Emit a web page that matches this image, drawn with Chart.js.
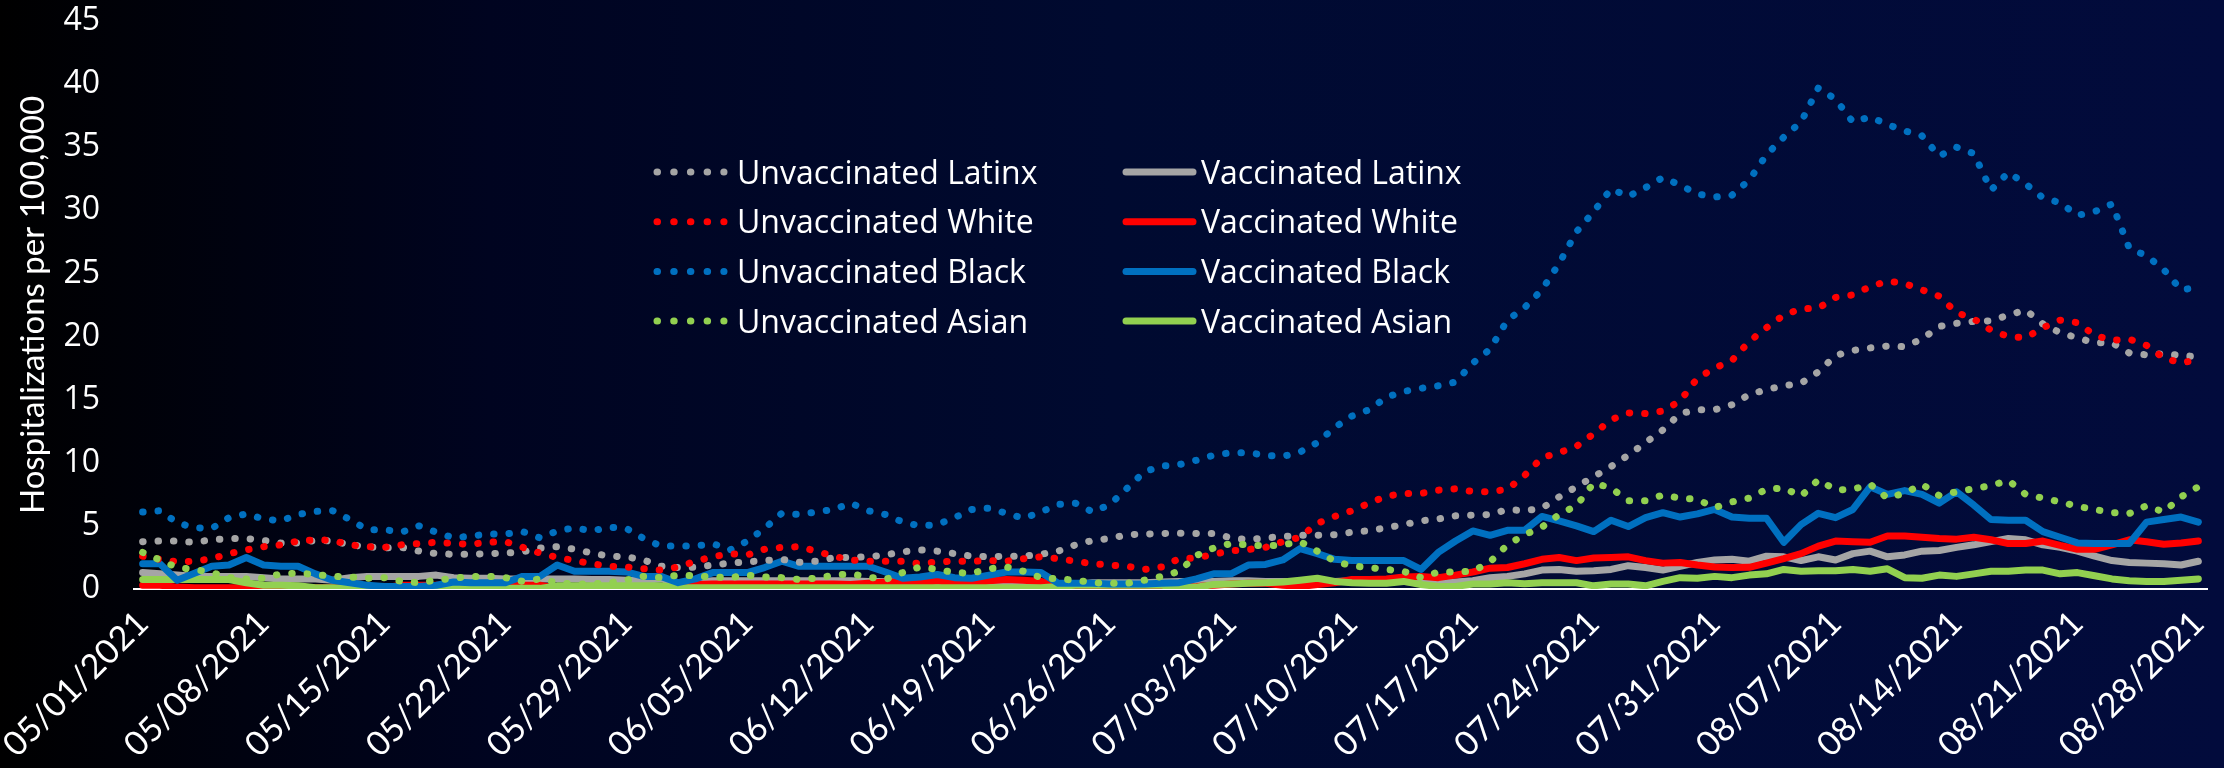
<!DOCTYPE html>
<html>
<head>
<meta charset="utf-8">
<script src="https://cdn.jsdelivr.net/npm/chart.js@4.4.1/dist/chart.umd.min.js"></script>
<style>
html,body{margin:0;padding:0;background:#000;}
#wrap{width:2224px;height:768px;position:relative;
  background:linear-gradient(to right,#000000 0%,#000420 22%,#000a30 50%,#020b3c 100%);}
</style>
</head>
<body>
<div id="wrap"><canvas id="c" width="2224" height="768"></canvas></div>
<script>
// ---- categories: daily dates 05/01/2021 .. 08/28/2021 ----
const START_YEAR = 2021, START_MONTH = 4, START_DAY = 1, N_DAYS = 120, TICK_EVERY = 7;
const labels = [];
for (let i = 0; i < N_DAYS; i++) {
  const d = new Date(Date.UTC(START_YEAR, START_MONTH, START_DAY + i));
  const mm = String(d.getUTCMonth() + 1).padStart(2, '0');
  const dd = String(d.getUTCDate()).padStart(2, '0');
  labels.push(mm + '/' + dd + '/' + d.getUTCFullYear());
}

// ---- y ticks ----
const yMin = 0, yMax = 45, yStep = 5;

// ---- series values (hospitalizations per 100,000) ----
const unvaccinatedLatinx = [
  3.75,3.8,3.8,3.7,3.9,4.0,4.0,3.85,3.65,3.65,
  3.85,3.8,3.5,3.35,3.25,3.3,3.0,2.8,2.75,2.75,
  2.8,2.85,2.95,3.25,3.35,3.15,2.85,2.6,2.55,2.3,
  1.8,1.7,1.72,1.9,2.05,2.15,2.25,2.35,2.12,2.2,
  2.48,2.5,2.55,2.7,2.95,3.1,3.0,2.8,2.6,2.55,
  2.6,2.6,2.75,3.0,3.5,3.85,4.0,4.3,4.35,4.4,
  4.42,4.4,4.4,4.05,3.9,4.05,4.15,4.26,4.26,4.3,
  4.5,4.62,4.85,5.1,5.4,5.55,5.8,5.85,5.9,6.3,
  6.2,6.4,7.3,8.1,8.9,9.7,10.6,11.6,12.6,13.9,
  14.2,14.2,14.6,15.4,15.8,16.1,16.3,17.2,18.5,18.9,
  19.1,19.25,19.2,19.8,20.8,21.05,21.2,21.25,21.7,22.1,
  21.0,20.3,19.9,19.5,19.5,18.7,18.55,18.65,18.5,18.4
];
const unvaccinatedWhite = [
  2.6,2.35,2.15,2.2,2.4,2.8,3.1,3.35,3.5,3.8,
  3.9,3.85,3.5,3.35,3.3,3.5,3.6,3.7,3.6,3.55,
  3.7,3.75,3.3,2.85,2.5,2.25,2.0,1.8,1.75,1.6,
  1.5,1.75,2.2,2.55,2.8,2.7,3.15,3.3,3.35,3.0,
  2.6,2.3,2.2,2.2,2.2,2.0,2.15,2.2,2.2,2.25,
  2.2,2.4,2.55,2.4,2.2,2.0,1.9,1.8,1.55,1.75,
  2.4,2.45,2.75,3.03,3.13,3.3,3.75,4.1,5.2,5.75,
  6.2,6.8,7.35,7.57,7.57,7.83,7.94,7.72,7.7,7.9,
  9.0,10.4,10.8,11.3,12.3,13.4,13.95,13.9,14.1,14.9,
  16.7,17.5,18.1,19.6,20.7,21.7,22.2,22.25,23.1,23.3,
  23.95,24.4,24.2,23.7,23.2,21.9,21.4,20.5,20.0,19.9,
  20.7,21.3,21.1,20.1,19.7,19.8,19.3,18.3,17.9,18.2
];
const unvaccinatedBlack = [
  6.1,6.2,5.25,4.85,4.8,5.65,5.95,5.55,5.4,5.9,
  6.15,6.2,5.5,4.7,4.7,4.5,5.0,4.5,4.05,4.2,
  4.35,4.35,4.55,4.05,4.6,4.85,4.6,4.9,4.8,4.0,
  3.4,3.4,3.4,3.6,3.1,3.8,4.8,6.0,5.9,6.1,
  6.3,6.8,6.2,5.9,5.3,5.0,5.1,5.65,6.3,6.4,
  6.0,5.6,6.1,6.7,6.8,6.1,6.7,8.0,9.3,9.75,
  9.85,10.2,10.6,10.8,10.8,10.6,10.5,10.85,11.6,12.8,
  13.7,14.2,15.2,15.65,15.9,16.1,16.4,17.9,19.0,21.3,
  22.3,23.7,25.8,28.3,29.9,31.7,31.1,31.8,32.6,32.0,
  31.3,31.05,31.2,32.4,34.4,35.8,37.0,39.7,38.8,37.0,
  37.4,36.8,36.3,35.9,34.3,35.0,34.5,31.6,33.0,32.1,
  31.0,30.6,29.6,29.9,30.5,27.0,26.4,25.3,23.7,23.9
];
const unvaccinatedAsian = [
  2.9,2.3,1.7,1.55,1.3,0.9,0.8,0.85,1.2,1.25,
  1.15,1.0,0.95,0.85,0.9,0.6,0.5,0.7,0.85,1.0,
  1.0,0.9,0.6,0.8,0.5,0.4,0.4,0.5,0.7,1.0,
  0.9,1.1,1.05,0.95,0.9,1.1,0.95,0.9,0.75,0.85,
  1.1,1.2,0.95,0.75,1.3,1.75,1.55,1.3,1.25,1.6,
  1.75,1.4,0.9,0.8,0.7,0.5,0.45,0.45,0.7,1.0,
  1.4,2.65,3.25,3.6,3.5,3.4,3.5,3.75,3.0,2.2,
  1.83,1.7,1.55,1.4,0.9,1.35,1.35,1.4,2.15,3.5,
  4.3,4.9,5.9,6.6,8.4,8.0,7.0,7.0,7.45,7.2,
  7.1,6.45,6.9,7.2,7.9,8.0,7.35,8.65,7.85,7.9,
  8.3,7.2,7.6,8.3,7.4,7.7,7.95,8.2,8.6,7.5,
  7.2,6.9,6.55,6.3,6.05,5.98,6.6,6.1,7.3,8.1
];
const vaccinatedLatinx = [
  1.3,1.2,1.1,1.0,1.0,1.0,1.0,0.9,0.8,0.8,
  0.8,0.7,0.9,1.0,1.0,1.0,1.0,1.1,0.9,0.85,
  0.85,0.8,0.8,0.8,0.8,0.8,0.75,0.75,0.7,0.7,
  0.8,0.5,0.6,0.65,0.65,0.65,0.65,0.65,0.65,0.65,
  0.65,0.65,0.6,0.6,0.6,0.4,0.4,0.4,0.4,0.4,
  0.4,0.4,0.4,0.4,0.35,0.5,0.5,0.5,0.5,0.55,
  0.6,0.6,0.6,0.65,0.65,0.6,0.6,0.6,0.6,0.6,
  0.65,0.65,0.6,0.6,0.5,0.45,0.55,0.65,0.9,1.0,
  1.2,1.5,1.55,1.4,1.45,1.55,1.85,1.7,1.5,1.8,
  2.1,2.3,2.35,2.2,2.6,2.55,2.25,2.55,2.3,2.8,
  3.0,2.55,2.7,3.0,3.05,3.3,3.5,3.75,4.0,3.9,
  3.5,3.3,3.0,2.6,2.25,2.1,2.05,2.0,1.9,2.2
];
const vaccinatedWhite = [
  0.3,0.3,0.15,0.1,0.1,0.1,0.1,0.1,0.1,0.1,
  0.1,0.1,0.1,0.1,0.1,0.3,0.3,0.3,0.3,0.3,
  0.3,0.3,0.3,0.3,0.05,0.05,0.05,0.05,0.05,0.05,
  0.05,0.1,0.35,0.4,0.4,0.4,0.4,0.4,0.4,0.4,
  0.4,0.35,0.45,0.55,0.6,0.45,0.65,0.45,0.4,0.65,
  0.75,0.7,0.6,0.2,0.1,0.05,0.05,0.05,0.1,0.15,
  0.15,0.2,0.3,0.4,0.45,0.45,0.3,0.2,0.35,0.5,
  0.75,0.75,0.8,0.95,1.0,0.9,1.1,1.35,1.65,1.7,
  2.0,2.35,2.5,2.25,2.45,2.5,2.55,2.25,2.05,2.1,
  1.9,1.75,1.7,1.72,2.05,2.4,2.8,3.4,3.8,3.75,
  3.7,4.2,4.2,4.1,4.0,3.95,4.1,3.9,3.6,3.6,
  3.8,3.45,3.15,3.15,3.5,3.9,3.75,3.55,3.65,3.8
];
const vaccinatedBlack = [
  2.0,2.0,0.7,1.25,1.8,1.9,2.5,1.9,1.8,1.8,
  1.2,0.7,0.5,0.3,0.2,0.2,0.2,0.3,0.55,0.5,
  0.5,0.5,1.0,1.0,1.9,1.4,1.4,1.4,1.35,1.0,
  1.0,0.5,0.8,1.3,1.3,1.3,1.7,2.2,1.8,1.8,
  1.8,1.8,1.8,1.35,0.85,0.95,1.15,0.9,0.85,1.1,
  1.35,1.35,1.3,0.45,0.45,0.45,0.4,0.4,0.4,0.45,
  0.5,0.8,1.2,1.2,1.9,1.95,2.3,3.2,2.8,2.35,
  2.25,2.25,2.25,2.25,1.55,2.9,3.8,4.6,4.25,4.65,
  4.65,5.75,5.4,5.0,4.55,5.45,4.95,5.65,6.05,5.7,
  5.95,6.3,5.7,5.6,5.6,3.7,5.1,6.0,5.65,6.3,
  8.1,7.5,7.8,7.5,6.8,7.7,6.65,5.5,5.45,5.45,
  4.55,4.1,3.65,3.6,3.6,3.6,5.3,5.5,5.7,5.3
];
const vaccinatedAsian = [
  0.75,0.75,0.75,0.75,0.75,0.75,0.5,0.3,0.3,0.25,
  0.1,0.1,0.05,0.05,0.05,0.05,0.05,0.05,0.05,0.05,
  0.05,0.05,0.05,0.05,0.25,0.25,0.25,0.25,0.25,0.25,
  0.25,0.1,0.1,0.1,0.1,0.1,0.1,0.1,0.1,0.1,
  0.1,0.1,0.1,0.1,0.1,0.1,0.1,0.1,0.1,0.1,
  0.1,0.1,0.1,0.2,0.3,0.3,0.3,0.3,0.3,0.3,
  0.1,0.15,0.35,0.4,0.45,0.5,0.55,0.7,0.85,0.6,
  0.5,0.45,0.45,0.6,0.35,0.2,0.2,0.4,0.4,0.5,
  0.42,0.5,0.5,0.5,0.25,0.4,0.4,0.25,0.6,0.9,
  0.85,1.0,0.9,1.1,1.2,1.55,1.4,1.45,1.45,1.55,
  1.4,1.6,0.9,0.85,1.1,1.0,1.2,1.4,1.4,1.5,
  1.5,1.2,1.3,1.05,0.8,0.65,0.6,0.6,0.7,0.8
];

// ---- styling ----
const GRAY = '#A5A5A5', RED = '#FF0000', BLUE = '#0070C0', GREEN = '#92D050';
const DOT_DASH = [0.5, 14.9];
const LINE_W = 7;

function dotted(label, data, color) {
  return { label, data, borderColor: color, backgroundColor: color, borderWidth: LINE_W,
    borderDash: DOT_DASH, borderCapStyle: 'round', borderJoinStyle: 'round',
    pointRadius: 0, pointHoverRadius: 0, tension: 0, fill: false };
}
function solid(label, data, color) {
  return { label, data, borderColor: color, backgroundColor: color, borderWidth: LINE_W,
    borderDash: [], borderCapStyle: 'round', borderJoinStyle: 'round',
    pointRadius: 0, pointHoverRadius: 0, tension: 0, fill: false };
}

// dataset 0 is drawn on top in Chart.js
const datasets = [
  dotted('Unvaccinated Asian', unvaccinatedAsian, GREEN),
  dotted('Unvaccinated White', unvaccinatedWhite, RED),
  dotted('Unvaccinated Latinx', unvaccinatedLatinx, GRAY),
  dotted('Unvaccinated Black', unvaccinatedBlack, BLUE),
  solid('Vaccinated Black', vaccinatedBlack, BLUE),
  solid('Vaccinated Asian', vaccinatedAsian, GREEN),
  solid('Vaccinated White', vaccinatedWhite, RED),
  solid('Vaccinated Latinx', vaccinatedLatinx, GRAY)
];

const legendColumns = [
  ['Unvaccinated Latinx', 'Unvaccinated White', 'Unvaccinated Black', 'Unvaccinated Asian'],
  ['Vaccinated Latinx', 'Vaccinated White', 'Vaccinated Black', 'Vaccinated Asian']
];

const legendPlugin = {
  id: 'twoColumnLegend',
  afterDatasetsDraw(chart) {
    const ctx = chart.ctx;
    const colGeom = [
      { x1: 657, x2: 724, tx: 737 },
      { x1: 1126, x2: 1193, tx: 1201 }
    ];
    const rowY0 = 172, rowDY = 49.7;
    ctx.save();
    ctx.font = '32px "Open Sans"';
    ctx.textAlign = 'left';
    ctx.textBaseline = 'alphabetic';
    legendColumns.forEach((col, ci) => {
      col.forEach((name, ri) => {
        const ds = chart.data.datasets.find(d => d.label === name);
        const y = rowY0 + ri * rowDY;
        const g = colGeom[ci];
        ctx.beginPath();
        ctx.strokeStyle = ds.borderColor;
        ctx.lineWidth = ds.borderWidth;
        ctx.lineCap = 'round';
        ctx.setLineDash(ds.borderDash.length ? [0.5, 16.2] : []);
        ctx.moveTo(g.x1, y);
        ctx.lineTo(g.x2, y);
        ctx.stroke();
        ctx.setLineDash([]);
        ctx.fillStyle = '#FFFFFF';
        ctx.fillText(name, g.tx, y + 11.5);
      });
    });
    ctx.restore();
  }
};

Chart.defaults.font.family = 'Lato';
Chart.defaults.color = '#FFFFFF';

new Chart(document.getElementById('c'), {
  type: 'line',
  data: { labels, datasets },
  options: {
    responsive: false,
    animation: false,
    events: [],
    layout: { padding: { left: 0, right: 17, top: 21, bottom: 0 } },
    plugins: { legend: { display: false }, tooltip: { enabled: false } },
    scales: {
      x: {
        type: 'category',
        offset: true,
        grid: { display: false, drawTicks: false },
        border: { display: true, color: '#FFFFFF', width: 2 },
        ticks: {
          autoSkip: false, maxRotation: 45, minRotation: 45, padding: 14,
          color: '#FFFFFF', font: { family: 'Lato', size: 34 },
          callback: function (v, i) { return i % TICK_EVERY === 0 ? labels[i] : ''; }
        },
        afterFit(s) { s.height = 179; s.paddingLeft = 0; s.paddingRight = 0; }
      },
      y: {
        min: yMin, max: yMax,
        grid: { display: false, drawTicks: false },
        border: { display: false },
        ticks: { stepSize: yStep, padding: 34, color: '#FFFFFF', font: { family: 'Open Sans', size: 32 } },
        title: { display: true, text: 'Hospitalizations per 100,000', color: '#FFFFFF',
          font: { family: 'Lato', size: 33 }, padding: { top: 14, bottom: 0 } },
        afterFit(s) { s.width = 134; s.paddingTop = 0; s.paddingBottom = 0; }
      }
    }
  },
  plugins: [legendPlugin]
});
</script>
</body>
</html>
